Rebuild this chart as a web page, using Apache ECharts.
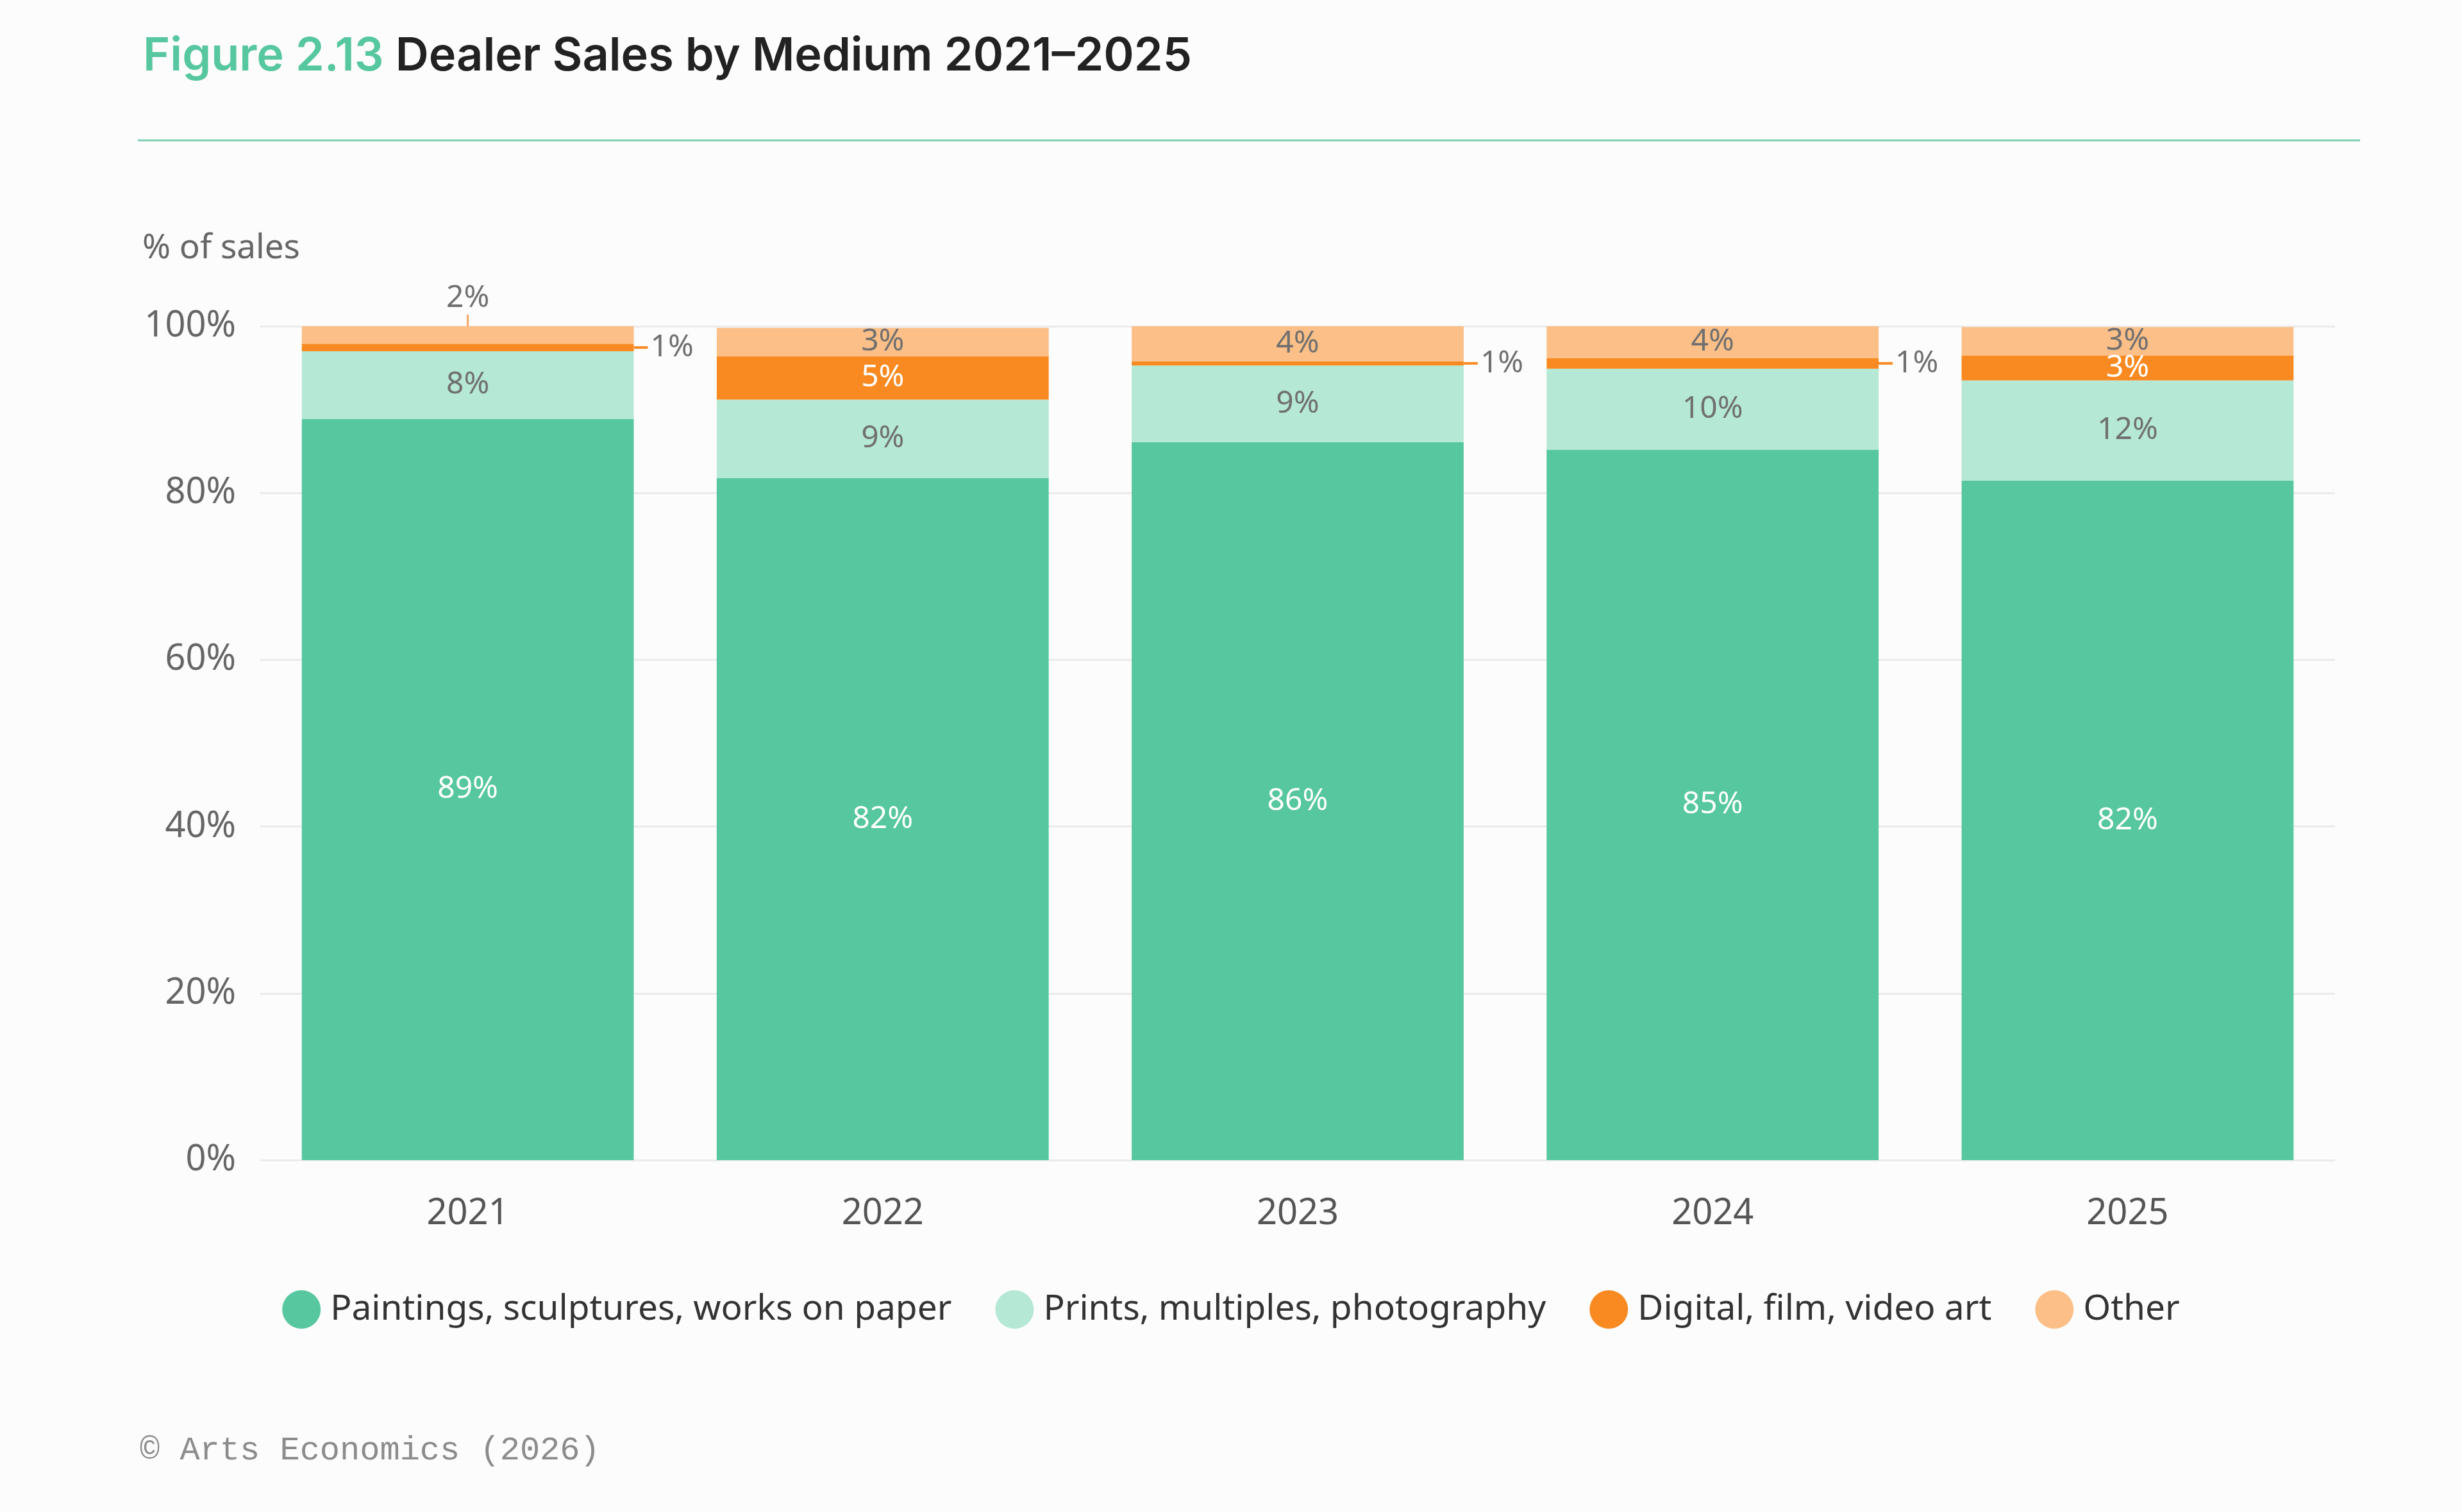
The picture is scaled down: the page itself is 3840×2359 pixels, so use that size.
<!DOCTYPE html>
<html>
<head>
<meta charset="utf-8">
<script src="https://cdn.jsdelivr.net/npm/echarts@6/dist/echarts.min.js"></script>
<style>
html,body{margin:0;padding:0;background:#FCFCFC;}
#chart{width:3840px;height:2359px;}
</style>
</head>
<body>
<div id="chart"></div>
<script>
// ---- data ----
const years = ['2021', '2022', '2023', '2024', '2025'];
const paintings = [88.9, 81.8, 86.1, 85.2, 81.5];
const prints = [8.1, 9.4, 9.2, 9.7, 12.0];
const digital = [0.9, 5.2, 0.5, 1.3, 3.0];
const other = [2.1, 3.4, 4.2, 3.8, 3.4];
const seriesNames = ['Paintings, sculptures, works on paper', 'Prints, multiples, photography', 'Digital, film, video art', 'Other'];
const yTicks = [0, 20, 40, 60, 80, 100];

const COLORS = ['#56C79E', '#B5E8D5', '#F88A21', '#FBBF87'];
const GRAY = '#707070';
const FONT = 'Noto Sans';

const chart = echarts.init(document.getElementById('chart'), null, {renderer: 'canvas'});

function pct(v) { return Math.round(v) + '%'; }

function makeData(values, idx) {
  return values.map(function (v) {
    const item = {value: v};
    if (idx === 2 && v < 2) {
      item.label = {
        position: 'right', distance: 0,
        formatter: function (p) { return '{l|}{t|' + pct(p.value) + '}'; },
        rich: {
          l: {width: 22, height: 4, backgroundColor: COLORS[2]},
          t: {fontSize: 48, color: GRAY, fontFamily: FONT, padding: [0, 0, 0, 4]}
        }
      };
    } else if (idx === 3 && v < 2.5) {
      item.label = {
        position: 'top', distance: 0,
        formatter: function (p) { return '{t|' + pct(p.value) + '}\n{v|}'; },
        rich: {
          t: {fontSize: 48, color: GRAY, fontFamily: FONT, align: 'center', lineHeight: 52},
          v: {width: 3, height: 18, backgroundColor: '#F4A862', align: 'center'}
        }
      };
    }
    return item;
  });
}

const allValues = [paintings, prints, digital, other];
const labelColors = ['#FFFFFF', GRAY, '#FFFFFF', GRAY];

const series = allValues.map(function (vals, i) {
  return {
    name: seriesNames[i],
    type: 'bar',
    stack: 'total',
    barWidth: '80%',
    data: makeData(vals, i),
    itemStyle: {color: COLORS[i]},
    label: {
      show: true,
      position: 'inside',
      color: labelColors[i],
      fontSize: 48,
      fontFamily: FONT,
      formatter: function (p) { return pct(p.value); }
    },
    emphasis: {disabled: true}
  };
});

const option = {
  backgroundColor: '#FCFCFC',
  animation: false,
  title: {
    left: 218,
    top: 38,
    text: '{a|Figure 2.13 }{b|Dealer Sales by Medium 2021–2025}',
    textStyle: {
      rich: {
        a: {fontSize: 72, fontWeight: 600, color: '#56C79E', fontFamily: 'Inter', lineHeight: 90},
        b: {fontSize: 72, fontWeight: 600, color: '#222222', fontFamily: 'Inter', lineHeight: 90}
      }
    }
  },
  graphic: [
    {type: 'line', shape: {x1: 215, y1: 219, x2: 3681, y2: 219}, style: {stroke: '#7CCFB0', lineWidth: 3}},
    {type: 'text', x: 222, y: 388, style: {text: '% of sales', fontSize: 53, fill: '#666666', fontFamily: FONT, textVerticalAlign: 'middle'}},
    {type: 'text', x: 218, y: 2263, style: {text: '© Arts Economics (2026)', fontSize: 52, fill: '#8C8C8C', fontFamily: 'Liberation Mono', textVerticalAlign: 'middle'}}
  ],
  legend: {
    left: 'center',
    top: 2008,
    icon: 'circle',
    itemWidth: 60,
    itemHeight: 60,
    itemGap: 68,
    textStyle: {fontSize: 55, color: '#333333', fontFamily: FONT, padding: [0, 0, 0, 10]},
    data: seriesNames
  },
  grid: {left: 406, right: 198, top: 509, bottom: 549, containLabel: false},
  xAxis: {
    type: 'category',
    data: years,
    axisLine: {show: false},
    axisTick: {show: false},
    axisLabel: {fontSize: 56, color: '#555555', fontFamily: FONT, margin: 56}
  },
  yAxis: {
    type: 'value',
    min: yTicks[0],
    max: yTicks[yTicks.length - 1],
    interval: yTicks[1] - yTicks[0],
    axisLine: {show: false},
    axisTick: {show: false},
    axisLabel: {fontSize: 56, color: '#666666', fontFamily: FONT, margin: 38, formatter: '{value}%'},
    splitLine: {lineStyle: {color: '#EBEBEB', width: 3}}
  },
  series: series
};

chart.setOption(option);
</script>
</body>
</html>
